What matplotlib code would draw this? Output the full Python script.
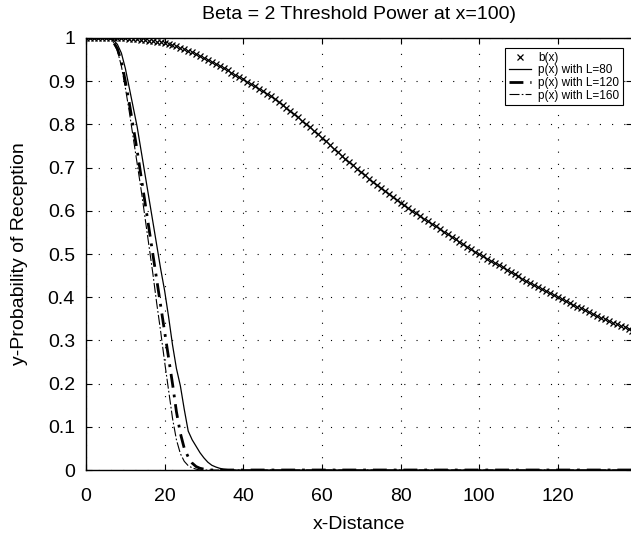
import matplotlib.pyplot as plt
import numpy as np

plt.rcParams['font.family'] = ['Liberation Sans', 'DejaVu Sans']

# b(x), one value per unit of distance (0..139)
b_vals = [
    1.000, 1.000, 1.000, 1.000, 1.000, 1.000, 0.999, 1.000, 0.999, 0.999,
    0.999, 0.998, 0.998, 0.997, 0.996, 0.996, 0.994, 0.993, 0.991, 0.990,
    0.988, 0.986, 0.983, 0.981, 0.978, 0.975, 0.971, 0.967, 0.963, 0.958,
    0.953, 0.949, 0.944, 0.940, 0.935, 0.930, 0.925, 0.920, 0.915, 0.910,
    0.905, 0.899, 0.894, 0.888, 0.883, 0.877, 0.871, 0.865, 0.858, 0.852,
    0.846, 0.839, 0.831, 0.824, 0.816, 0.808, 0.801, 0.793, 0.785, 0.777,
    0.769, 0.761, 0.752, 0.744, 0.736, 0.728, 0.720, 0.712, 0.705, 0.697,
    0.689, 0.682, 0.674, 0.667, 0.660, 0.653, 0.646, 0.639, 0.632, 0.626,
    0.619, 0.613, 0.606, 0.600, 0.594, 0.588, 0.582, 0.576, 0.570, 0.564,
    0.558, 0.552, 0.546, 0.540, 0.534, 0.528, 0.522, 0.517, 0.511, 0.505,
    0.500, 0.495, 0.489, 0.484, 0.479, 0.474, 0.469, 0.463, 0.458, 0.453,
    0.448, 0.443, 0.438, 0.433, 0.428, 0.423, 0.418, 0.414, 0.409, 0.404,
    0.400, 0.396, 0.391, 0.387, 0.382, 0.378, 0.374, 0.370, 0.365, 0.361,
    0.357, 0.353, 0.349, 0.345, 0.341, 0.337, 0.333, 0.330, 0.326, 0.322,
]
x_vals = np.arange(len(b_vals))

# p(x) curves, values for x = 0..40, zero beyond
p80_head = [1.0, 1.0, 1.0, 1.0, 1.0, 1.0, 1.0, 0.995, 0.985, 0.965,
            0.93, 0.885, 0.84, 0.795, 0.74, 0.685, 0.63, 0.575, 0.52, 0.465,
            0.415, 0.355, 0.29, 0.235, 0.195, 0.14, 0.09, 0.07, 0.055, 0.04,
            0.028, 0.018, 0.011, 0.007, 0.004, 0.002, 0.001, 0.0, 0.0, 0.0, 0.0]
p120_head = [1.0, 1.0, 1.0, 1.0, 1.0, 1.0, 1.0, 0.99, 0.975, 0.945,
             0.90, 0.85, 0.795, 0.74, 0.68, 0.62, 0.56, 0.50, 0.44, 0.38,
             0.32, 0.26, 0.20, 0.135, 0.085, 0.05, 0.03, 0.016, 0.008, 0.004,
             0.002, 0.001, 0.0, 0.0, 0.0, 0.0, 0.0, 0.0, 0.0, 0.0, 0.0]
p160_head = [1.0, 1.0, 1.0, 1.0, 1.0, 1.0, 1.0, 0.99, 0.97, 0.935,
             0.885, 0.83, 0.77, 0.71, 0.65, 0.585, 0.52, 0.455, 0.385, 0.32,
             0.25, 0.185, 0.12, 0.07, 0.038, 0.02, 0.01, 0.005, 0.002, 0.0,
             0.0, 0.0, 0.0, 0.0, 0.0, 0.0, 0.0, 0.0, 0.0, 0.0, 0.0]
pad = [0.0] * (len(b_vals) - len(p80_head))
p80 = p80_head + pad
p120 = p120_head + pad
p160 = p160_head + pad

fig = plt.figure(figsize=(6.31, 5.39), dpi=100)
ax = fig.add_axes([0.1363, 0.128, 0.866, 0.8015])

ax.plot(x_vals, b_vals, 'x', color='k', markersize=4.5, markeredgewidth=0.9, label='b(x)')
ax.plot(x_vals, p80, '-', color='k', lw=0.9, label='p(x) with L=80')
ax.plot(x_vals, p120, color='k', lw=2.0, dashes=[5, 2.5, 1, 2.5], label='p(x) with L=120')
ax.plot(x_vals, p160, color='k', lw=0.8, dashes=[9, 2, 1.5, 2], label='p(x) with L=160')

ax.set_xlim(0, 139)
ax.set_ylim(0, 1)
ax.set_xticks([0, 20, 40, 60, 80, 100, 120])
ax.set_yticks(np.arange(0, 1.01, 0.1))
ax.set_yticklabels(['0', '0.1', '0.2', '0.3', '0.4', '0.5', '0.6', '0.7', '0.8', '0.9', '1'])
ax.tick_params(direction='in', top=True, right=True, labelsize=14, length=4)
ax.tick_params(axis='x', pad=13)
ax.tick_params(axis='y', pad=8)
ax.grid(True, color='k', linestyle=(0, (1, 10)), linewidth=0.8)
for s in ax.spines.values():
    s.set_linewidth(1.0)

ax.set_title('Beta = 2 Threshold Power at x=100)', fontsize=14, pad=14)
ax.set_xlabel('x-Distance', fontsize=14, labelpad=8)
ax.set_ylabel('y-Probability of Reception', fontsize=14, labelpad=14)

leg = ax.legend(loc='upper right', fontsize=8.5, fancybox=False, framealpha=1,
                edgecolor='k', handlelength=1.9, handletextpad=0.6, borderpad=0.3,
                labelspacing=0.05, bbox_to_anchor=(0.993, 0.99))
leg.get_frame().set_linewidth(0.8)

fig.savefig('out.png', dpi=100)
